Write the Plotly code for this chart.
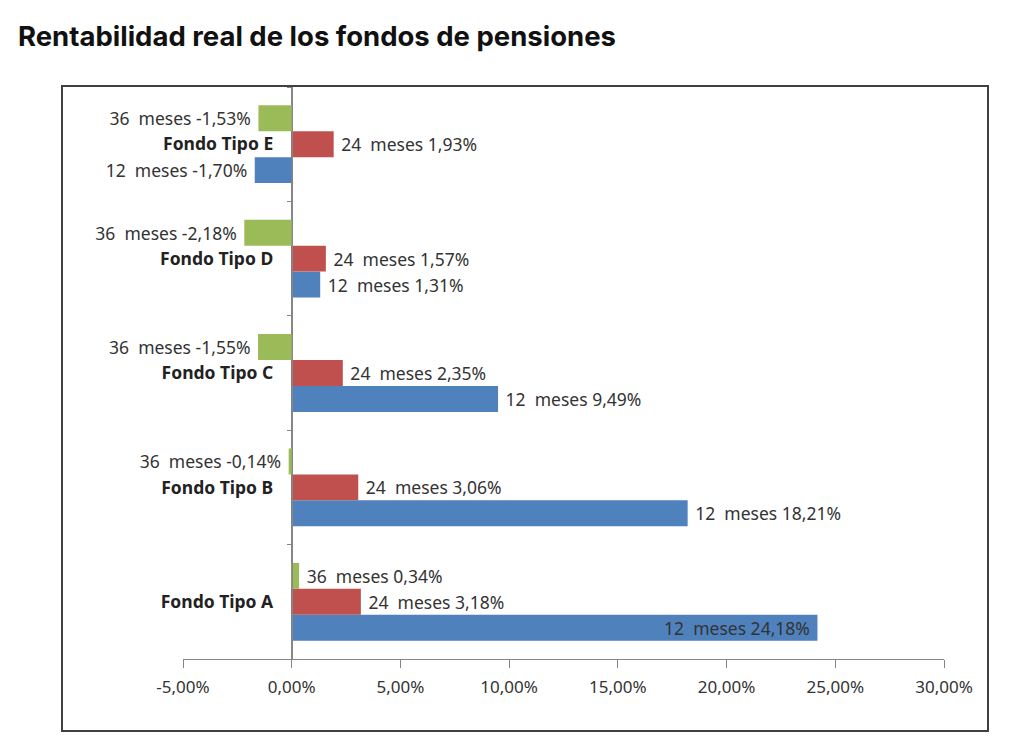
import plotly.graph_objects as go

categories = ["Fondo Tipo A", "Fondo Tipo B", "Fondo Tipo C", "Fondo Tipo D", "Fondo Tipo E"]
series_names = ["12  meses", "24  meses", "36  meses"]
v12 = [24.18, 18.21, 9.49, 1.31, -1.70]
v24 = [3.18, 3.06, 2.35, 1.57, 1.93]
v36 = [0.34, -0.14, -1.55, -2.18, -1.53]
colors = ["#4F81BD", "#C0504D", "#9BBB59"]
tick_vals = [-5, 0, 5, 10, 15, 20, 25, 30]
tick_text = ["-5,00%", "0,00%", "5,00%", "10,00%", "15,00%", "20,00%", "25,00%", "30,00%"]

W, H = 1024, 749
OFF = 8  # page body margin
# target screen positions of plot area
sx0, sx1, sy0, sy1 = 183, 944, 87, 659
L, T = sx0 - OFF, sy0 - OFF
R, B = W - (sx1 - OFF), H - (sy1 - OFF)
pw, ph = W - L - R, H - T - B

NB = "\u00a0"

def fmt(name, v, inside):
    s = f"{name} {v:.2f}%".replace(".", ",")
    if inside or v < 0:
        return s + NB
    return NB + s

lab_font = dict(family="Noto Sans", size=17.5, color="#333333")

fig = go.Figure()
for name, vals, col in zip(series_names, [v12, v24, v36], colors):
    inside = [v > 20 for v in vals]
    fig.add_trace(go.Bar(
        y=categories, x=vals, orientation="h", name=name,
        marker=dict(color=col, line=dict(width=0)),
        text=[fmt(name, v, i) for v, i in zip(vals, inside)],
        textposition=["inside" if i else "outside" for i in inside],
        insidetextanchor="end",
        textfont=lab_font, insidetextfont=lab_font, outsidetextfont=lab_font,
        cliponaxis=False, constraintext="none",
    ))

zero_pos = (0 - (-5)) / 35

fig.update_layout(
    width=W, height=H, barmode="group", bargap=0.32, bargroupgap=0,
    margin=dict(l=L, r=R, t=T, b=B),
    paper_bgcolor="white", plot_bgcolor="white", showlegend=False,
    title=dict(text="<b>Rentabilidad real de los fondos de pensiones</b>",
               x=(18 - OFF) / W, xanchor="left", y=1 - (36 - OFF) / H, yanchor="middle",
               font=dict(family="Inter", size=27.5, color="#111111")),
    xaxis=dict(range=[-5, 30], tickvals=tick_vals, ticktext=tick_text,
               showgrid=False, zeroline=True, zerolinecolor="#868686", zerolinewidth=1,
               showline=True, linecolor="#868686", linewidth=1,
               ticks="outside", ticklen=8, tickcolor="#868686", ticklabelstandoff=5,
               tickfont=dict(family="Noto Sans", size=17, color="#333333")),
    yaxis=dict(anchor="free", position=zero_pos, showgrid=False, showline=True,
               linecolor="#868686", linewidth=1, ticks="outside", ticklen=5,
               tickcolor="#868686", tickson="boundaries", ticklabelstandoff=15,
               categoryorder="array", categoryarray=categories,
               tickfont=dict(family="Noto Sans", size=17.5, color="#222222", weight="bold")),
)

fx0, fx1, fy0, fy1 = 62, 988, 86, 731
fig.add_shape(type="rect", xref="paper", yref="paper",
              x0=(fx0 - OFF - L) / pw, x1=(fx1 - OFF - L) / pw,
              y0=(H - B - (fy1 - OFF)) / ph, y1=(H - B - (fy0 - OFF)) / ph,
              line=dict(color="#404040", width=2), fillcolor="rgba(0,0,0,0)", layer="below")

fig.write_html("out.html")
